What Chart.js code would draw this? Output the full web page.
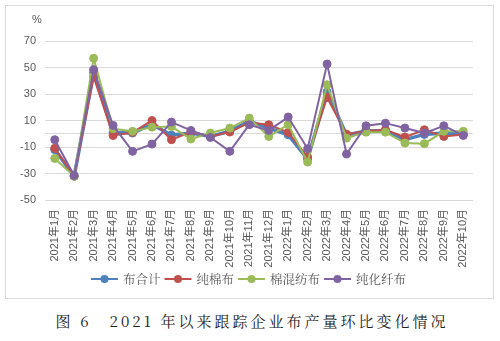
<!DOCTYPE html>
<html><head><meta charset="utf-8">
<script src="https://cdn.jsdelivr.net/npm/chart.js@4.4.1/dist/chart.umd.min.js"></script>
<style>
html,body{margin:0;padding:0;background:#fff;}
#frame{position:absolute;left:5px;top:5px;width:489px;height:294px;box-sizing:border-box;border:1px solid #d9d9d9;background:#fff;}
#frame canvas{display:block}
#caption{position:absolute;left:2px;top:310px;width:500px;text-align:center;font-family:"Noto Serif CJK SC","Noto Sans CJK SC",serif;font-size:15px;color:#222;letter-spacing:3px;white-space:pre}
</style></head><body>
<div id="frame"><canvas id="c" width="487" height="292"></canvas></div>
<div id="caption">图 6　2021 年以来跟踪企业布产量环比变化情况</div>
<script>
const categories = ["2021年1月","2021年2月","2021年3月","2021年4月","2021年5月","2021年6月","2021年7月","2021年8月","2021年9月","2021年10月","2021年11月","2021年12月","2022年1月","2022年2月","2022年3月","2022年4月","2022年5月","2022年6月","2022年7月","2022年8月","2022年9月","2022年10月"];
const seriesNames = ["布合计","纯棉布","棉混纺布","纯化纤布"];
const totalCloth = [-12,-32,46,1,0.5,7,-1,0.5,-2,2,9.5,4.3,-0.8,-19,31.5,-1,2,2.5,-4.5,-0.5,0.5,-0.5];
const cottonCloth = [-11,-32,43,-1.3,1,10,-4.5,1.5,-2,1.3,8.5,6.8,1,-17.6,27.4,-0.3,2,3,-2.5,3,-2,-0.5];
const blendedCloth = [-18.6,-32,57,3.8,1.8,5,5.5,-4,0.5,4.3,11.8,-2,6.8,-21.4,37,-3.3,1.2,1.2,-7,-7.5,1.8,1.8];
const syntheticCloth = [-4.5,-31.5,48.3,6.3,-13.3,-7.8,8.8,2.5,-2.8,-13.3,6.8,2.5,12.6,-11.3,52.6,-15.3,6,8,4.3,0.5,6,-1.3];
const yTicks = [-50,-30,-10,10,30,50,70];
const colors = ["#4F81BD","#C0504D","#9BBB59","#8064A2"];

const seriesData = [totalCloth, cottonCloth, blendedCloth, syntheticCloth];
const datasets = seriesData.map((d,i)=>({
  label: seriesNames[i],
  data: d,
  borderColor: colors[i],
  backgroundColor: colors[i],
  borderWidth: i===0 ? 3.5 : 2,
  pointRadius: 4,
  pointBorderWidth: 1,
  pointBorderColor: colors[i],
  pointBackgroundColor: colors[i],
  tension: 0,
  order: 4 - i
}));

const labelFont = '"Liberation Sans","Open Sans","Noto Sans CJK SC",sans-serif';

const extras = {
  id: 'extras',
  afterDraw(chart){
    const ctx = chart.ctx;
    const ca = chart.chartArea;
    ctx.save();
    ctx.fillStyle = '#595959';
    ctx.font = '11px ' + labelFont;
    ctx.textAlign = 'center';
    ctx.textBaseline = 'middle';
    ctx.fillText('%', ca.left - 8, ca.top - 21);
    ctx.font = '12.5px "Noto Serif CJK SC","Noto Sans CJK SC",sans-serif';
    const lineLen = 27, gapTxt = 5, gapItem = 4;
    const widths = seriesNames.map(n=>ctx.measureText(n).width);
    let total = 0;
    widths.forEach(w=>{ total += lineLen + gapTxt + w; });
    total += gapItem * (widths.length - 1);
    let x = chart.width/2 - total/2 - 1;
    const y = 273;
    chart.data.datasets.forEach((ds,i)=>{
      ctx.strokeStyle = ds.borderColor;
      ctx.lineWidth = 2;
      ctx.beginPath(); ctx.moveTo(x, y); ctx.lineTo(x+lineLen, y); ctx.stroke();
      ctx.fillStyle = ds.borderColor;
      ctx.beginPath(); ctx.arc(x+lineLen/2, y, 4, 0, Math.PI*2); ctx.fill();
      ctx.fillStyle = '#595959';
      ctx.textAlign = 'left';
      ctx.fillText(ds.label, x + lineLen + gapTxt, y);
      x += lineLen + gapTxt + widths[i] + gapItem;
    });
    ctx.restore();
  }
};

new Chart(document.getElementById('c'), {
  type: 'line',
  data: { labels: categories, datasets },
  plugins: [extras],
  options: {
    responsive: false,
    animation: false,
    layout: { padding: { left: 0, right: 20, top: 35, bottom: 29 } },
    plugins: { legend: { display: false }, tooltip: { enabled: false } },
    scales: {
      x: {
        offset: true,
        grid: { display: false, drawTicks: false },
        border: { display: false },
        ticks: { autoSkip: false, maxRotation: 90, minRotation: 90, padding: 9, color: '#595959', font: { size: 11, family: labelFont } },
        afterFit(scale){ scale.height = 69; }
      },
      y: {
        min: yTicks[0], max: yTicks[yTicks.length-1],
        grid: { color: '#d9d9d9', lineWidth: 1, drawTicks: false },
        border: { display: false },
        afterBuildTicks(scale){
          const t = yTicks.map(v=>({value:v}));
          t.push({value:0});
          t.sort((a,b)=>a.value-b.value);
          scale.ticks = t;
        },
        ticks: { padding: 9, color: '#595959', font: { size: 11, family: labelFont },
          callback(v){ return v === 0 ? '' : v; } },
        afterFit(scale){ scale.width = 39; }
      }
    }
  }
});
</script>
</body></html>
